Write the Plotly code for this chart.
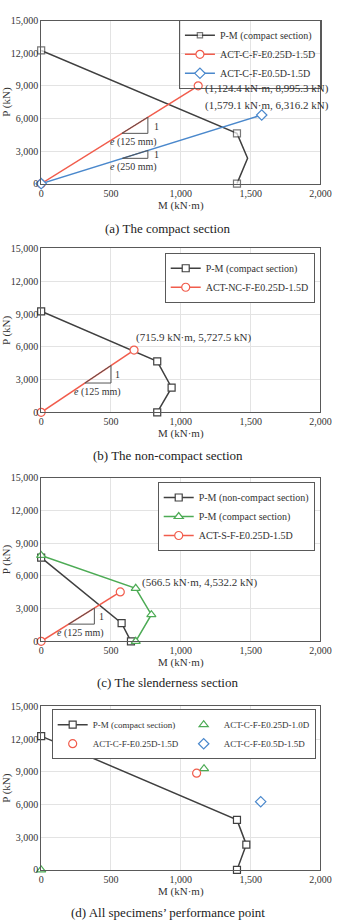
import plotly.graph_objects as go

# ---------------- data ----------------
# (a) compact section
pm_a_M = [0, 1402, 1478, 1402]
pm_a_P = [12250, 4620, 2340, 0]
pm_a_marker = [True, True, False, True]
act_a1_M = [0, 1124.4]
act_a1_P = [0, 8995.3]
act_a2_M = [0, 1579.1]
act_a2_P = [0, 6316.2]
# (b) non-compact section
pm_b_M = [0, 831, 934, 831]
pm_b_P = [9250, 4670, 2260, 0]
act_b_M = [0, 665]
act_b_P = [0, 5700]
# (c) slenderness section
pm_c_nc_M = [0, 576, 643]
pm_c_nc_P = [7670, 1665, 0]
pm_c_c_M = [0, 677, 789, 677]
pm_c_c_P = [7880, 4860, 2445, 0]
act_c_M = [0, 566.5]
act_c_P = [0, 4532.2]
# (d) all specimens
pm_d_M = [0, 1402, 1469, 1402]
pm_d_P = [12280, 4590, 2320, 0]
pt_green_M = [0, 1166]
pt_green_P = [0, 9290]
pt_red_M = [1113]
pt_red_P = [8880]
pt_blue_M = [1572]
pt_blue_P = [6260]

# slope triangle horizontal extents (M, kN*m)
tri_a1_M = [578, 764]
tri_a2_M = [582, 764]
tri_b_M = [313, 500]
tri_c_M = [197, 381]

x_ticks = [0, 500, 1000, 1500, 2000]
y_ticks = [0, 3000, 6000, 9000, 12000, 15000]

BLACK = "#404040"
RED = "#f15c4c"
BLUE = "#4a88cc"
GREEN = "#4dab55"
FONT = "Liberation Serif"

W, H = 344, 921
px_x0, px_x1 = 40.7, 331.0
panels_px = [(14.7, 180.0), (245.7, 411.7), (478.0, 643.7), (709.7, 875.3)]

fig = go.Figure()


def ax(i):
    return ("x" if i == 1 else f"x{i}"), ("y" if i == 1 else f"y{i}")


def leg(i):
    return "legend" if i == 1 else f"legend{i}"


def triangle(i, Mx, slope):
    xa, ya = ax(i)
    x1, x2 = Mx
    y1 = slope * x1
    y2 = slope * x2
    fig.add_trace(go.Scatter(x=[x1, x2, x2, x1], y=[y1, y1, y2, y1], mode="lines",
                             line=dict(color="#555555", width=1), xaxis=xa, yaxis=ya,
                             showlegend=False, hoverinfo="skip"))


def line(i, M, P, name, color, symbol, size=7, legend=True, mode="lines+markers", msizes=None):
    xa, ya = ax(i)
    fig.add_trace(go.Scatter(
        x=M, y=P, name=name, mode=mode, cliponaxis=False,
        line=dict(color=color, width=1.5),
        marker=dict(symbol=symbol, size=msizes if msizes is not None else size, color="white",
                    line=dict(color=color, width=1.2)),
        xaxis=xa, yaxis=ya, legend=leg(i), showlegend=legend))


# (a)
line(1, pm_a_M, pm_a_P, "P-M (compact section)", BLACK, "square",
     msizes=[7 if m else 0 for m in pm_a_marker])
line(1, act_a1_M, act_a1_P, "ACT-C-F-E0.25D-1.5D", RED, "circle", size=8)
line(1, act_a2_M, act_a2_P, "ACT-C-F-E0.5D-1.5D", BLUE, "diamond", size=8)
triangle(1, tri_a1_M, act_a1_P[1] / act_a1_M[1])
triangle(1, tri_a2_M, act_a2_P[1] / act_a2_M[1])

# (b)
line(2, pm_b_M, pm_b_P, "P-M (compact section)", BLACK, "square")
line(2, act_b_M, act_b_P, "ACT-NC-F-E0.25D-1.5D", RED, "circle", size=8)
triangle(2, tri_b_M, act_b_P[1] / act_b_M[1])

# (c)
line(3, pm_c_nc_M, pm_c_nc_P, "P-M (non-compact section)", BLACK, "square")
line(3, pm_c_c_M, pm_c_c_P, "P-M (compact section)", GREEN, "triangle-up", size=8)
line(3, act_c_M, act_c_P, "ACT-S-F-E0.25D-1.5D", RED, "circle", size=8)
triangle(3, tri_c_M, act_c_P[1] / act_c_M[1])

# (d)
line(4, pm_d_M, pm_d_P, "P-M (compact section)", BLACK, "square")
line(4, pt_green_M, pt_green_P, "ACT-C-F-E0.25D-1.0D", GREEN, "triangle-up", size=8, mode="markers")
line(4, pt_red_M, pt_red_P, "ACT-C-F-E0.25D-1.5D", RED, "circle", size=8, mode="markers")
line(4, pt_blue_M, pt_blue_P, "ACT-C-F-E0.5D-1.5D", BLUE, "diamond", size=8, mode="markers")

layout = dict(width=W, height=H, margin=dict(l=0, r=0, t=0, b=0),
              paper_bgcolor="white", plot_bgcolor="white",
              font=dict(family=FONT, size=10, color="#333333"))

for i, (t, b) in enumerate(panels_px, start=1):
    xk = "xaxis" if i == 1 else f"xaxis{i}"
    yk = "yaxis" if i == 1 else f"yaxis{i}"
    xa, ya = ax(i)
    layout[xk] = dict(domain=[px_x0 / W, px_x1 / W], anchor=ya, range=[0, 2000],
                      tickvals=x_ticks, tickformat=",", showgrid=True, gridcolor="#e3e3e3",
                      showline=True, linecolor="#595959", linewidth=1, mirror=True,
                      zeroline=False, ticks="", tickfont=dict(family=FONT, size=10),
                      title=dict(text="M (kN·m)", font=dict(family=FONT, size=11), standoff=2))
    layout[yk] = dict(domain=[1 - b / H, 1 - t / H], anchor=xa, range=[0, 15000],
                      tickvals=y_ticks, tickformat=",", showgrid=True, gridcolor="#e3e3e3",
                      showline=True, linecolor="#595959", linewidth=1, mirror=True,
                      zeroline=False, ticks="", tickfont=dict(family=FONT, size=10),
                      title=dict(text="P (kN)", font=dict(family=FONT, size=11), standoff=2))

legend_common = dict(bordercolor="#595959", borderwidth=1,
                     xanchor="right", yanchor="top", tracegroupgap=0, itemwidth=30)
lf10 = dict(family=FONT, size=10, color="#333333")
lf9 = dict(family=FONT, size=9, color="#333333")
layout["legend"] = dict(x=332.5 / W, y=1 - 14.0 / H, font=lf10,
                        bgcolor="rgba(255,255,255,0)", **legend_common)
layout["legend2"] = dict(x=325 / W, y=1 - 250 / H, font=lf10, bgcolor="white", **legend_common)
layout["legend3"] = dict(x=325 / W, y=1 - 482.3 / H, font=lf10, bgcolor="white", **legend_common)
layout["legend4"] = dict(x=326 / W, y=1 - 712.5 / H, orientation="h", entrywidth=86,
                         font=lf9, bgcolor="white", **legend_common)

# white backing for the (transparent) legend of panel (a): hides gridlines, keeps traces visible
layout["shapes"] = [dict(type="rect", xref="paper", yref="paper", layer="between",
                         x0=183 / W, x1=331 / W, y0=1 - 77 / H, y1=1 - 15.5 / H,
                         fillcolor="white", line=dict(width=0))]

fig.update_layout(**layout)

ann = []


def text(i, x, y, s, xanchor="left", size=11):
    xa, ya = ax(i)
    ann.append(dict(x=x, y=y, xref=xa, yref=ya, text=s, showarrow=False, xanchor=xanchor,
                    yanchor="middle", font=dict(family=FONT, size=size, color="#333333")))


text(1, 1161, 8780, "(1,124.4 kN·m, 8,995.3 kN)")
text(1, 1159, 7200, "(1,579.1 kN·m, 6,316.2 kN)")
text(1, 790, 5290, "1", size=10)
text(1, 790, 2650, "1", size=10)
text(1, 661, 3870, "<i>e</i> (125 mm)", xanchor="center", size=10)
text(1, 661, 1510, "<i>e</i> (250 mm)", xanchor="center", size=10)

text(2, 663, 6840, "(715.9 kN·m, 5,727.5 kN)")
text(2, 515, 3470, "1", size=10)
text(2, 401, 1900, "<i>e</i> (125 mm)", xanchor="center", size=10)

text(3, 711, 5380, "(566.5 kN·m, 4,532.2 kN)")
text(3, 397, 2300, "1", size=10)
text(3, 282, 760, "<i>e</i> (125 mm)", xanchor="center", size=10)

subtitles = ["(a) The compact section", "(b) The non-compact section",
             "(c) The slenderness section", "(d) All specimens’ performance point"]
sub_y = [225, 455, 685, 918]
for s, yp in zip(subtitles, sub_y):
    ann.append(dict(x=0.5, y=1 - yp / H, xref="paper", yref="paper", text=s, showarrow=False,
                    xanchor="center", yanchor="middle",
                    font=dict(family=FONT, size=13, color="#222222")))

fig.update_layout(annotations=ann)
fig.write_html("out.html")
